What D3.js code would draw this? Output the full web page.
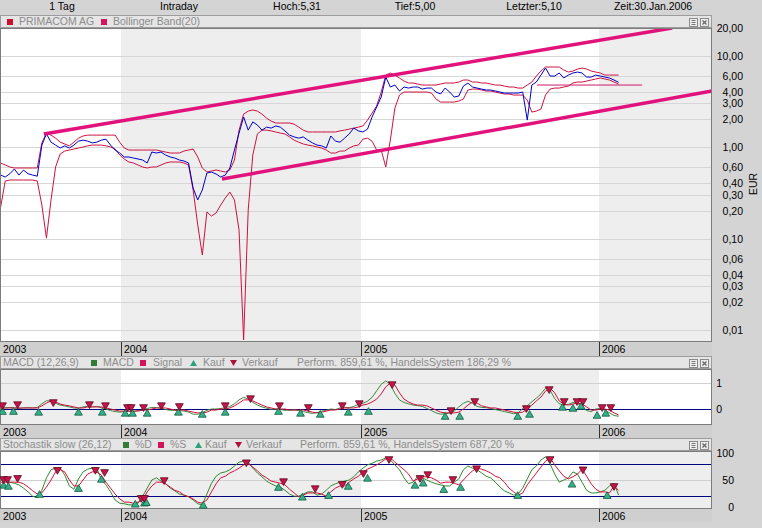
<!DOCTYPE html>
<html><head><meta charset="utf-8">
<script src="https://cdn.jsdelivr.net/npm/d3@7/dist/d3.min.js"></script>
<style>
html,body{margin:0;padding:0;background:#d4d4d4;}
svg{display:block;font-family:"Liberation Sans",Arial,sans-serif;}
</style></head><body>
<svg id="chart" width="762" height="528"></svg>
<script>
// ---------------- DATA ----------------
const headerLabels = ["1 Tag","Intraday","Hoch:5,31","Tief:5,00","Letzter:5,10","Zeit:30.Jan.2006"];
const seriesStart = "2003-07-01";           // weekly observations from this date
const firstYearLabel = "2003";
const yearTicks = ["2004-01-01","2005-01-01","2006-01-01"];
const yearLabels = ["2004","2005","2006"];
const priceTicks = [20,10,6,4,3,2,1,0.6,0.4,0.3,0.2,0.1,0.06,0.04,0.03,0.02,0.01];
const macdTicks = [1,0];
const stochTicks = [100,50,0];
const stochLevels = [80,20];

const price = [
 0.494,0.47,0.51,0.575,0.494,0.56,0.51,0.494,0.48,1.05,
 1.39,1.13,1.05,0.975,1.03,0.975,1.05,1.16,1.19,1.16,
 1.11,1.13,1.19,1.22,1.05,0.927,0.86,0.778,0.778,0.758,
 0.74,0.721,0.669,0.882,0.86,0.882,0.818,0.778,0.758,0.721,
 0.703,0.669,0.356,0.264,0.339,0.52,0.533,0.507,0.47,0.494,
 0.59,0.927,1.42,2.13,1.53,1.88,1.74,1.53,1.65,1.61,
 1.70,1.65,1.50,1.35,1.29,1.25,1.29,1.19,1.11,1.05,
 1.03,0.975,1.32,1.16,1.13,1.25,1.39,1.61,1.50,1.46,
 1.57,2.13,2.74,3.52,5.82,4.53,4.76,4.09,4.53,4.41,
 4.53,4.53,4.30,4.41,4.41,3.99,3.80,4.41,3.99,3.52,
 3.61,4.64,5.00,4.53,4.41,4.30,4.20,4.20,4.09,3.99,
 3.89,3.89,3.89,3.89,3.99,1.97,4.76,5.14,6.12,7.30,
 5.97,5.97,6.44,5.68,6.12,6.44,6.60,6.44,5.82,5.82,
 6.12,5.97,5.82,5.68,5.40,5.10];
const upperBand = [
 0.669,0.636,0.605,0.59,0.59,0.59,0.59,0.59,0.59,1.11,
 1.42,1.35,1.25,1.13,1.08,1.03,1.13,1.25,1.32,1.35,
 1.35,1.35,1.35,1.35,1.35,1.35,1.13,0.975,0.927,0.927,
 0.927,0.927,0.927,0.927,0.927,0.904,0.882,0.86,0.86,0.86,
 0.904,0.927,0.951,0.778,0.59,0.533,0.547,0.561,0.547,0.533,
 0.561,0.721,1.53,2.29,2.47,2.54,2.47,2.29,2.07,1.92,
 1.83,1.83,1.83,1.83,1.78,1.65,1.53,1.46,1.46,1.46,
 1.46,1.46,1.46,1.46,1.50,1.53,1.57,1.61,1.65,1.70,
 1.97,2.35,2.81,3.99,6.12,6.44,6.12,5.68,5.26,5.01,
 5.01,4.88,4.76,4.76,4.76,4.76,4.88,5.01,5.01,5.01,
 5.13,5.40,5.40,5.13,5.13,5.01,5.01,4.88,4.76,4.76,
 4.64,4.53,4.53,4.41,4.41,4.76,5.13,5.97,6.77,7.49,
 7.49,7.49,7.49,6.94,6.60,6.77,7.12,7.30,7.12,6.77,
 6.60,6.44,6.12,6.12,6.12,6.12];
const lowerBand = [
 0.221,0.425,0.436,0.436,0.436,0.436,0.436,0.436,0.425,0.232,
 0.101,0.264,0.605,0.839,0.904,0.927,0.951,0.975,1.00,1.03,
 1.05,1.05,1.05,1.03,1.00,0.951,0.818,0.74,0.686,0.669,
 0.636,0.605,0.59,0.605,0.605,0.636,0.669,0.686,0.686,0.686,
 0.669,0.636,0.339,0.141,0.066,0.195,0.176,0.19,0.232,0.277,
 0.322,0.264,0.124,0.0078,0.205,0.818,1.39,1.53,1.53,1.50,
 1.46,1.42,1.39,1.29,1.19,1.13,1.08,1.05,1.03,1.00,
 0.975,0.927,0.86,0.86,0.904,0.904,0.975,1.03,1.05,1.22,
 1.25,1.16,0.927,0.927,0.605,1.19,2.67,3.70,3.99,3.99,
 3.99,3.99,3.99,3.99,3.89,3.35,3.10,3.10,3.10,3.10,
 3.18,3.35,4.20,4.30,4.30,4.20,4.09,4.09,3.99,3.89,
 3.80,3.80,3.70,3.70,3.70,3.26,2.41,2.47,2.60,3.70,
 4.30,4.41,4.41,4.53,4.64,5.01,5.13,5.13,5.26,5.40,
 5.54,5.68,5.54,5.40,5.13,4.88];
const trendUpper = [["2003-09-05",1.39],["2006-04-23",20.0]];
const trendLower = [["2004-06-03",0.447],["2006-06-23",4.09]];
const lastLevel = [["2005-09-28",4.76],["2006-03-08",4.76]];

const macdLine = [
 0.04,0.04,0.06,0.04,0.02,0.04,0.05,0.04,0.06,0.2,
 0.32,0.3,0.22,0.15,0.12,0.08,0.04,0.03,0.08,0.1,
 0.08,0.1,0.05,0,-0.06,-0.1,-0.12,-0.1,-0.09,-0.1,
 -0.06,-0.05,0.02,0.06,0.05,0.03,-0.02,-0.05,-0.05,-0.06,
 -0.08,-0.12,-0.2,-0.2,-0.15,-0.05,0,0,0.02,0.05,
 0.1,0.2,0.35,0.45,0.38,0.26,0.15,0.08,0.03,-0.01,
 0,-0.02,-0.05,-0.05,-0.03,-0.06,-0.1,-0.14,-0.17,-0.14,
 -0.08,-0.05,0,-0.02,0.04,0.06,0.05,0.1,0.18,0.22,
 0.3,0.45,0.7,0.95,1.08,0.95,0.6,0.35,0.25,0.2,
 0.15,0.13,0.1,0.02,-0.06,-0.15,-0.2,-0.18,-0.15,-0.08,
 0.08,0.22,0.3,0.22,0.1,0.06,0.05,0.02,-0.02,-0.06,
 -0.1,-0.14,-0.18,-0.15,0.02,0.12,0.28,0.42,0.58,0.8,
 0.72,0.4,0.2,0.15,0.18,0.25,0.22,0.08,-0.06,-0.1,
 0,0.02,-0.05,-0.15,-0.25,-0.28];
const signalLine = [
 0.04,0.04,0.04,0.04,0.04,0.04,0.04,0.04,0.04,0.12,
 0.23,0.31,0.27,0.19,0.15,0.12,0.08,0.04,0.04,0.08,
 0.08,0.08,0.08,0.04,0,-0.04,-0.08,-0.08,-0.08,-0.08,
 -0.08,-0.04,-0.04,0,0.04,0.04,0.04,0,-0.04,-0.04,
 -0.04,-0.08,-0.12,-0.15,-0.15,-0.12,-0.04,-0.04,0,0,
 0.04,0.12,0.23,0.35,0.35,0.31,0.23,0.15,0.08,0.04,
 0,0,0,-0.04,-0.04,-0.04,-0.04,-0.08,-0.12,-0.15,
 -0.12,-0.08,-0.04,-0.04,0,0.04,0.04,0.04,0.08,0.15,
 0.19,0.27,0.38,0.58,0.85,1.0,0.92,0.62,0.38,0.27,
 0.19,0.15,0.15,0.12,0.04,-0.04,-0.12,-0.15,-0.15,-0.15,
 -0.12,0,0.15,0.27,0.23,0.12,0.08,0.04,0.04,0,
 -0.04,-0.08,-0.12,-0.15,-0.12,0,0.15,0.31,0.46,0.69,
 0.81,0.62,0.31,0.19,0.15,0.19,0.23,0.19,0.08,-0.04,
 -0.04,0,0,-0.04,-0.15,-0.23];
// markers: [week index, value]
const macdKauf = [[0.4,-0.12],[2.8,-0.12],[8.3,-0.15],[17,-0.15],[22.2,-0.15],[27.2,-0.19],[28.8,-0.19],[32,-0.19],[38.8,-0.15],[44,-0.23],[49,-0.15],[60.6,-0.12],[65.4,-0.19],[69.7,-0.23],[75.8,-0.15],[80.2,-0.12],[97,-0.31],[100.2,-0.31],[112.9,-0.31],[115.5,-0.23],[122.7,0.04],[125,0],[126.8,0.08],[130.3,-0.27],[132.2,-0.19]];
const macdVerkauf = [[0.4,0.15],[3.7,0.19],[11.5,0.27],[19.4,0.19],[22.9,0.15],[27.7,0.08],[28.5,0.08],[31.2,0.08],[35.1,0.15],[39,0.12],[49,0.15],[54.5,0.42],[60.8,0.15],[67.1,0.08],[74.5,0.15],[78.2,0.23],[85.4,0.96],[98.3,-0.04],[103.5,0.31],[114.8,0.04],[119.8,0.77],[123.1,0.31],[125.9,0.31],[127.2,0.31],[131.4,0.08],[133.3,0.08]];

const stochS = [
 46,46,46,46,46,43,37,30,24,26,
 37,50,65,69,65,50,39,39,50,61,
 65,65,59,46,35,24,15,9,9,7,
 9,13,28,39,46,46,43,37,31,28,
 22,19,15,9,7,13,28,43,54,57,
 63,67,72,78,80,74,67,59,54,48,
 46,44,41,33,26,19,22,26,26,26,
 24,20,28,35,39,39,46,52,57,65,
 70,74,78,83,89,91,83,76,69,61,
 48,52,56,56,54,50,44,46,46,44,
 41,50,59,67,72,70,67,63,57,54,
 46,35,28,22,26,41,52,63,74,85,
 91,78,67,57,52,56,61,70,57,43,
 33,28,28,26,39,31];
const stochD = [
 50,48,46,44,41,35,28,20,17,31,
 54,69,72,72,59,39,33,52,65,70,
 72,72,50,41,28,13,7,6,4,4,
 7,20,35,50,54,48,43,35,30,24,
 22,19,13,6,4,24,44,57,63,65,
 69,76,83,85,83,72,63,56,48,43,
 39,37,31,24,20,20,24,28,28,22,
 24,31,39,43,46,48,50,56,65,72,
 78,81,85,87,91,87,78,69,54,43,
 46,57,54,50,46,43,41,39,39,46,
 52,69,76,72,69,63,57,54,46,37,
 30,26,22,24,35,52,69,76,87,93,
 80,61,46,50,54,65,61,46,31,26,
 26,28,31,39,44,22];
const stochKauf = [[0.65,39],[1.7,37],[8.5,22],[17,33],[22,50],[29.4,4],[31.4,6],[31.8,7],[44.2,2],[60.6,35],[65.8,17],[71.5,20],[75.8,37],[80,52],[90.4,39],[92.2,43],[96.7,31],[100.4,35],[112.9,20],[124.8,41],[132.5,20]];
const stochVerkauf = [[0.65,52],[1.5,52],[3.7,54],[12.4,69],[20.7,69],[22.7,65],[30.7,17],[31.4,17],[35.7,50],[53.6,83],[61.7,48],[68.6,35],[74.5,43],[79.1,63],[84.7,89],[91.5,54],[93.2,61],[98.7,52],[103.9,72],[120,89],[127.2,70],[134,39]];

// ---------------- LAYOUT ----------------
const svg = d3.select("#chart");
const PW = 712;
const FS = "10.5px";
const parse = d3.timeParse("%Y-%m-%d");
const t0 = parse(seriesStart);
const weekDate = i => new Date(t0.getTime() + i*7*864e5);
const dates = price.map((_, i) => weekDate(i));

const x = d3.scaleTime()
  .domain([parse("2003-06-30"), ...yearTicks.map(parse), parse("2006-06-23")])
  .range([0, 121, 361, 599, PW]);

const de = d3.formatLocale({decimal: ",", thousands: ".", grouping: [3], currency: ["", " €"]});
const fmt2 = de.format(".2f");

const panels = {
  main:  {legendTop: 15,  top: 28,  bottom: 342, axisBottom: 356, shade: [1,3]},
  macd:  {legendTop: 356, top: 369, bottom: 425, axisBottom: 438, shade: [0,2]},
  stoch: {legendTop: 438, top: 451, bottom: 509, axisBottom: 522, shade: [1,3]}
};

const yMain = d3.scaleLog().domain([0.01, 20]).range([330, 28]);
const yMacd = d3.scaleLinear().domain([0, 1]).range([409, 383]);
const yStoch = d3.scaleLinear().domain([0, 100]).range([507, 453]);

// header
const headerX = [62, 179, 297, 415, 534, 653];
svg.append("g").selectAll("text").data(headerLabels).join("text")
  .attr("x", (d, i) => headerX[i]).attr("y", 10).attr("text-anchor", "middle")
  .attr("font-size", FS).attr("fill", "#000").text(d => d);

const bounds = [x.domain()[0], ...yearTicks.map(parse), x.domain()[x.domain().length-1]];

function drawFrame(key, legendItems) {
  const p = panels[key];
  const g = svg.append("g");
  // legend strip
  g.append("rect").attr("x", 0.5).attr("y", p.legendTop + 0.5).attr("width", PW - 1)
    .attr("height", p.top - p.legendTop - 1).attr("fill", "#e5e5e5").attr("stroke", "#9c9c9c");
  // icons
  [689, 700].forEach((ix, k) => {
    const iy = p.legendTop + 3;
    g.append("rect").attr("x", ix + 0.5).attr("y", iy + 0.5).attr("width", 8).attr("height", 8)
      .attr("fill", "#eee").attr("stroke", "#8a8a8a");
    if (k === 0) {
      [2.5, 4.5, 6.5].forEach(dy => g.append("line").attr("x1", ix + 2.5).attr("x2", ix + 6.5)
        .attr("y1", iy + dy).attr("y2", iy + dy).attr("stroke", "#777"));
    } else {
      g.append("path").attr("d", `M${ix+2.5},${iy+2.5}L${ix+6.5},${iy+6.5}M${ix+6.5},${iy+2.5}L${ix+2.5},${iy+6.5}`)
        .attr("stroke", "#666").attr("stroke-width", 1.3);
    }
  });
  // legend items
  legendItems.forEach(it => {
    const by = p.legendTop + 10;
    if (it.t === "text") {
      g.append("text").attr("x", it.x).attr("y", by).attr("font-size", FS).attr("fill", "#8c8c8c").text(it.s);
    } else if (it.t === "sq") {
      g.append("rect").attr("x", it.x).attr("y", p.legendTop + 4).attr("width", 6).attr("height", 6).attr("fill", it.c);
    } else if (it.t === "up") {
      g.append("path").attr("d", `M${it.x},${p.legendTop+10}L${it.x+7},${p.legendTop+10}L${it.x+3.5},${p.legendTop+4}Z`).attr("fill", "#2aa27a");
    } else if (it.t === "down") {
      g.append("path").attr("d", `M${it.x},${p.legendTop+4}L${it.x+7},${p.legendTop+4}L${it.x+3.5},${p.legendTop+10}Z`).attr("fill", "#b0103c");
    }
  });
  // plot background
  g.append("rect").attr("x", 0).attr("y", p.top).attr("width", PW).attr("height", p.bottom - p.top).attr("fill", "#fff");
  p.shade.forEach(k => {
    g.append("rect").attr("x", x(bounds[k])).attr("y", p.top)
      .attr("width", x(bounds[k+1]) - x(bounds[k])).attr("height", p.bottom - p.top).attr("fill", "#eeeeee");
  });
  // axis strip
  g.append("rect").attr("x", 0).attr("y", p.bottom).attr("width", PW).attr("height", p.axisBottom - p.bottom).attr("fill", "#cfcfcf");
  g.append("text").attr("x", 3).attr("y", p.bottom + 11).attr("font-size", FS).attr("fill", "#000").text(firstYearLabel);
  yearTicks.forEach((d, i) => {
    const xx = Math.round(x(parse(d))) + 0.5;
    g.append("line").attr("x1", xx).attr("x2", xx).attr("y1", p.bottom).attr("y2", p.axisBottom).attr("stroke", "#333");
    g.append("text").attr("x", xx + 2.5).attr("y", p.bottom + 11).attr("font-size", FS).attr("fill", "#000").text(yearLabels[i]);
  });
  // clip
  svg.append("clipPath").attr("id", "clip-" + key).append("rect")
    .attr("x", 0).attr("y", p.top).attr("width", PW).attr("height", p.bottom - p.top);
  return g;
}

function drawBorder(key) {
  const p = panels[key];
  svg.append("rect").attr("x", 0.5).attr("y", p.top + 0.5).attr("width", PW - 1).attr("height", p.bottom - p.top - 1)
    .attr("fill", "none").attr("stroke", "#7c7c7c");
}

function markers(g, list, yScale, dir) {
  const sym = d3.symbol().type(d3.symbolTriangle).size(26);
  g.selectAll(null).data(list).join("path")
    .attr("d", sym)
    .attr("transform", d => `translate(${x(weekDate(d[0]))},${yScale(d[1])}) rotate(${dir === "down" ? 180 : 0})`)
    .attr("fill", dir === "down" ? "#c8124a" : "#35b08a")
    .attr("stroke", dir === "down" ? "#5a0a20" : "#125a3c").attr("stroke-width", 0.8);
}

// ---------- MAIN PANEL ----------
drawFrame("main", [
  {t:"sq", x:7, c:"#c8102e"}, {t:"text", x:19, s:"PRIMACOM AG"},
  {t:"sq", x:101, c:"#d4145a"}, {t:"text", x:113, s:"Bollinger Band(20)"}
]);
const gm = svg.append("g").attr("clip-path", "url(#clip-main)");
gm.selectAll("line.grid").data(priceTicks).join("line")
  .attr("x1", 0).attr("x2", PW)
  .attr("y1", d => Math.round(yMain(d)) + 0.5).attr("y2", d => Math.round(yMain(d)) + 0.5)
  .attr("stroke", "#d6d6d6");
const lineMain = arr => d3.line().x((d, i) => x(dates[i])).y(d => yMain(d))(arr);
gm.append("path").attr("d", lineMain(upperBand)).attr("fill", "none").attr("stroke", "#cc1240").attr("stroke-width", 1);
gm.append("path").attr("d", lineMain(lowerBand)).attr("fill", "none").attr("stroke", "#cc1240").attr("stroke-width", 1);
const segLine = d3.line().x(d => x(parse(d[0]))).y(d => yMain(d[1]));
gm.append("path").attr("d", segLine(lastLevel)).attr("stroke", "#d0186a").attr("stroke-width", 1).attr("fill", "none");
gm.append("path").attr("d", lineMain(price)).attr("fill", "none").attr("stroke", "#0000c8").attr("stroke-width", 1);
[trendUpper, trendLower].forEach(t => gm.append("path").attr("d", segLine(t))
  .attr("stroke", "#e2127c").attr("stroke-width", 3.5).attr("fill", "none"));
drawBorder("main");
svg.append("g").selectAll("text").data(priceTicks).join("text")
  .attr("x", 743).attr("y", d => yMain(d) + 4).attr("text-anchor", "end")
  .attr("font-size", FS).attr("fill", "#000").text(d => fmt2(d));
svg.append("text").attr("transform", "translate(757,184) rotate(-90)").attr("text-anchor", "middle")
  .attr("font-size", FS).attr("fill", "#000").text("EUR");

// ---------- MACD PANEL ----------
drawFrame("macd", [
  {t:"text", x:3, s:"MACD (12,26,9)"},
  {t:"sq", x:91, c:"#2e7d32"}, {t:"text", x:103, s:"MACD"},
  {t:"sq", x:140, c:"#d4145a"}, {t:"text", x:153, s:"Signal"},
  {t:"up", x:190}, {t:"text", x:203, s:"Kauf"},
  {t:"down", x:230}, {t:"text", x:242, s:"Verkauf"},
  {t:"text", x:297, s:"Perform. 859,61 %, HandelsSystem 186,29 %"}
]);
const gc = svg.append("g").attr("clip-path", "url(#clip-macd)");
gc.append("line").attr("x1", 0).attr("x2", PW).attr("y1", Math.round(yMacd(1)) + 0.5).attr("y2", Math.round(yMacd(1)) + 0.5).attr("stroke", "#d0d0d0");
gc.append("line").attr("x1", 0).attr("x2", PW).attr("y1", Math.round(yMacd(0)) + 0.5).attr("y2", Math.round(yMacd(0)) + 0.5).attr("stroke", "#000080");
const lineMacd = arr => d3.line().x((d, i) => x(dates[i])).y(d => yMacd(d))(arr);
gc.append("path").attr("d", lineMacd(macdLine)).attr("fill", "none").attr("stroke", "#3c8a3c").attr("stroke-width", 1);
gc.append("path").attr("d", lineMacd(signalLine)).attr("fill", "none").attr("stroke", "#d0103e").attr("stroke-width", 1);
drawBorder("macd");
const gcm = svg.append("g");
markers(gcm, macdKauf, yMacd, "up");
markers(gcm, macdVerkauf, yMacd, "down");
svg.append("g").selectAll("text").data(macdTicks).join("text")
  .attr("x", 722).attr("y", d => yMacd(d) + 4).attr("text-anchor", "end")
  .attr("font-size", FS).attr("fill", "#000").text(d => d);

// ---------- STOCH PANEL ----------
drawFrame("stoch", [
  {t:"text", x:3, s:"Stochastik slow (26,12)"},
  {t:"sq", x:123, c:"#2e7d32"}, {t:"text", x:135, s:"%D"},
  {t:"sq", x:158, c:"#d4145a"}, {t:"text", x:170, s:"%S"},
  {t:"up", x:195}, {t:"text", x:205, s:"Kauf"},
  {t:"down", x:235}, {t:"text", x:246, s:"Verkauf"},
  {t:"text", x:300, s:"Perform. 859,61 %, HandelsSystem 687,20 %"}
]);
const gs = svg.append("g").attr("clip-path", "url(#clip-stoch)");
gs.append("line").attr("x1", 0).attr("x2", PW).attr("y1", Math.round(yStoch(50)) + 0.5).attr("y2", Math.round(yStoch(50)) + 0.5).attr("stroke", "#d0d0d0");
stochLevels.forEach(l => gs.append("line").attr("x1", 0).attr("x2", PW)
  .attr("y1", Math.round(yStoch(l)) + 0.5).attr("y2", Math.round(yStoch(l)) + 0.5).attr("stroke", "#000080").attr("stroke-width", 1.2));
const lineSt = arr => d3.line().x((d, i) => x(dates[i])).y(d => yStoch(d))(arr);
gs.append("path").attr("d", lineSt(stochD)).attr("fill", "none").attr("stroke", "#2f8a2f").attr("stroke-width", 1);
gs.append("path").attr("d", lineSt(stochS)).attr("fill", "none").attr("stroke", "#d8103e").attr("stroke-width", 1);
drawBorder("stoch");
const gsm = svg.append("g");
markers(gsm, stochKauf, yStoch, "up");
markers(gsm, stochVerkauf, yStoch, "down");
svg.append("g").selectAll("text").data(stochTicks).join("text")
  .attr("x", 734).attr("y", d => yStoch(d) + 4).attr("text-anchor", "end")
  .attr("font-size", FS).attr("fill", "#000").text(d => d);
</script>
</body></html>
